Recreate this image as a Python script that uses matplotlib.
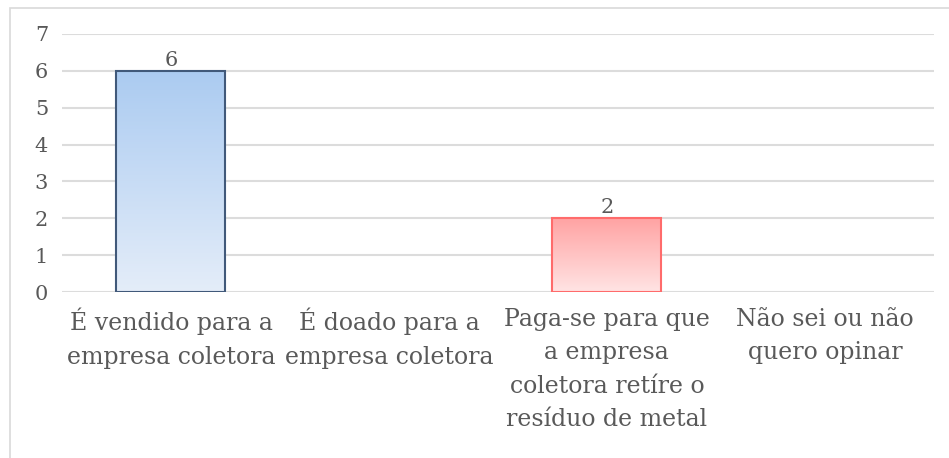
import matplotlib.pyplot as plt
import numpy as np
from matplotlib.colors import LinearSegmentedColormap
from matplotlib.patches import Rectangle

categories = [
    'É vendido para a\nempresa coletora',
    'É doado para a\nempresa coletora',
    'Paga-se para que\na empresa\ncoletora retíre o\nresíduo de metal',
    'Não sei ou não\nquero opinar',
]
values = [6, 0, 2, 0]
edge_colors = ['#41597a', '#41597a', '#ff6b6b', '#41597a']
grad_top = ['#abcbf1', '#abcbf1', '#ffa3a3', '#abcbf1']
grad_bottom = ['#e4edf9', '#e4edf9', '#ffe4e4', '#e4edf9']

plt.rcParams['font.family'] = ['DejaVu Serif']
text_color = '#595959'

fig = plt.figure(figsize=(9.49, 4.58), dpi=100)
ax = fig.add_axes([0.0653, 0.3624, 0.9187, 0.5634])

# light frame around the chart (only top and left visible in the original)
fig.patches.append(Rectangle((10 / 949, -0.1), 1.2, 1 - 8 / 458 + 0.1,
                             transform=fig.transFigure, fill=False,
                             edgecolor='#d9d9d9', linewidth=1.2))

x = np.arange(len(categories))
bars = ax.bar(x, values, width=0.5, color='none', zorder=3)

ax.set_xlim(-0.5, len(categories) - 0.5)
ax.set_ylim(0, 7)

for i, b in enumerate(bars):
    if values[i] == 0:
        continue
    cmap = LinearSegmentedColormap.from_list('g', [grad_bottom[i], grad_top[i]])
    grad = np.linspace(0, 1, 256).reshape(-1, 1)
    bx, by = b.get_x(), b.get_y()
    im = ax.imshow(grad, cmap=cmap, origin='lower', aspect='auto',
                   extent=[bx, bx + b.get_width(), by, by + b.get_height()],
                   zorder=2)
    im.set_clip_path(b)
    b.set_edgecolor(edge_colors[i])
    b.set_linewidth(1.5)
    ax.text(x[i], values[i] + 0.03, str(values[i]), ha='center', va='bottom',
            fontsize=15, color=text_color)

ax.set_xlim(-0.5, len(categories) - 0.5)
ax.set_ylim(0, 7)
ax.set_yticks(range(0, 8))
ax.yaxis.grid(True, color='#dcdcdc', linewidth=1.5, zorder=0)
ax.set_axisbelow(True)
for s in ax.spines.values():
    s.set_visible(False)
ax.tick_params(axis='both', length=0, labelcolor=text_color)
ax.tick_params(axis='y', pad=10, labelsize=15)
ax.set_xticks(x)
ax.set_xticklabels(categories, linespacing=1.58, fontsize=17)
ax.tick_params(axis='x', pad=11.5)

fig.savefig('out.png', dpi=100)
